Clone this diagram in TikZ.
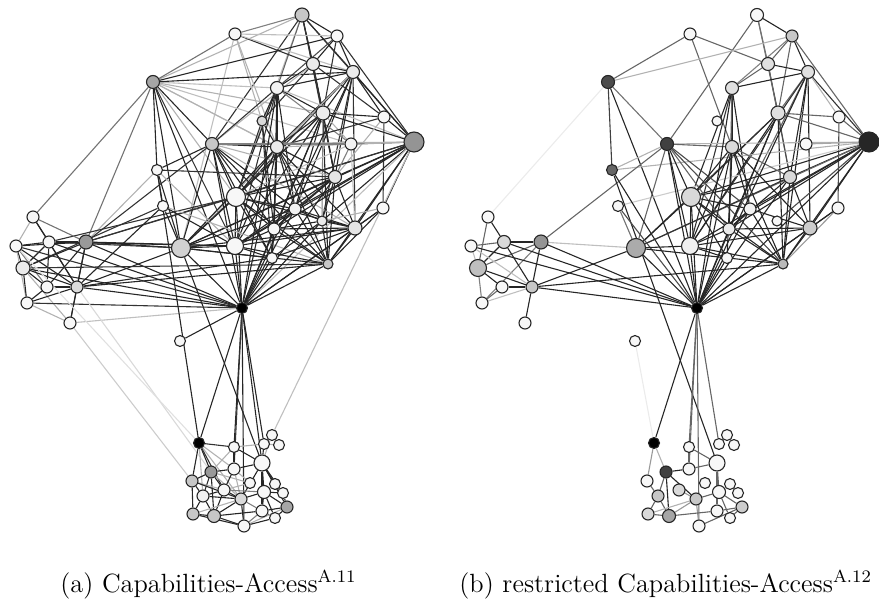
\documentclass[tikz,border=0pt]{standalone}
\usepackage{tikz}
\pgfdeclarelayer{edges}
\pgfsetlayers{edges,main}
\tikzset{
  vtx/.style={circle, draw=black!85, line width=0.5pt, inner sep=0pt, minimum size=#1*0.91pt},
  lnk/.style={line width=0.5pt, draw=black!#1},
  subcap/.style={anchor=base west, inner sep=0pt, font=\fontsize{12}{14}\selectfont},
}
\begin{document}
\begin{tikzpicture}[x=0.455pt, y=-0.455pt]
\useasboundingbox (0,0) rectangle (879,604);

% vertices: id / x / y / radius (a) / fill (a) / radius (b) / fill (b)
\foreach \i/\x/\y/\r/\f/\R/\F in {
  1/302/15/7/22/6.5/3, 2/235/34/6/3/6/3, 3/337/36/6/3/6/22, 4/153/82/6.5/35/6.5/70,
  5/313/64/6.5/8/6.5/12, 6/353/72/6.5/8/6.5/12, 7/277/88/6.5/5/6.5/12, 8/262/121/5/15/5/3,
  9/323/113/7/8/7/12, 10/384/117/6/3/6/3, 11/414/142/10/42/10/85, 12/212/144/6.5/22/6.5/75,
  13/277/147/6.5/8/6.5/15, 14/351/144/6/5/6/3, 15/157/170/5.5/3/5.5/60, 16/335/177/6.5/10/6.5/15,
  17/236/197/9.5/3/9.5/15, 18/163/206/5.5/3/5.5/3, 19/295/209/6/5/6/5, 20/383/208/6/3/6/3,
  21/322/221/5/8/5/3, 22/274/229/6/3/6/8, 23/355/228/7/10/7/20, 24/181/248/9.5/18/9.5/33,
  25/235/246/8.5/3/8.5/6, 26/86/242/7/40/7/42, 27/33/217/6/4/6/3, 28/49/242/6/4/6.5/15,
  29/16/246/6/3/6/3, 30/23/268/7/8/8.5/25, 31/272/258/5.5/3/5.5/3, 32/328/264/5/22/5/27,
  33/77/287/6/14/6/22, 34/47/287/6/3/6/3, 35/27/303/6/3/6/3, 36/70/323/6/3/6/3,
  37/242/308/5.5/100/5.5/100, 38/180/341/5.5/3/5.5/3,
  41/199/443/5.5/100/5.5/100, 42/234/447/5.5/3/5.5/3, 43/272/435/5.5/3/5.5/3, 44/264/444/5.5/3/5.5/3,
  45/279/445/5.5/3/5.5/3, 46/211/472/6/40/6/75, 47/234/469/6/3/6/3, 48/262/463/8/3/8/3,
  49/192/481/6/22/6/3, 50/250/483/5.5/3/5.5/3, 51/275/484/5.5/3/5.5/3, 52/203/496/6/6/6/22,
  53/224/490/6/3/6/15, 54/241/499/6/15/6/22, 55/264/492/6.5/3/6.5/3, 56/283/493/5.5/3/5.5/3,
  57/193/514/6/22/6/15, 58/214/516/6.5/22/6.5/35, 59/262/511/6/3/6/3, 60/287/507/6/35/6/20,
  61/275/518/5.5/3/5.5/3, 62/244/526/6/3/6/3}
{
  \node[vtx=\r, fill=black!\f] (a\i) at (\x,\y) {};
  \node[vtx=\R, fill=black!\F] (b\i) at (\x+455,\y) {};
}

\begin{pgfonlayer}{edges}
% links of the full graph: from / to / grey level
\foreach \s/\t/\c in {
  1/2/50, 1/3/85, 1/5/85, 1/6/85, 1/9/85, 1/11/80, 1/4/30, 1/12/80, 1/16/80, 1/17/25, 1/7/60,
  2/4/55, 2/5/80, 2/6/25, 2/8/30, 2/13/30, 2/3/25, 2/24/25,
  3/6/85, 3/5/85, 3/4/85, 3/9/80, 3/11/80, 3/7/70,
  4/12/85, 4/7/25, 4/15/85, 4/13/25, 4/17/30, 4/26/55, 4/24/85, 4/25/80, 4/9/30, 4/37/85, 4/6/85, 4/14/25, 4/16/30, 4/27/55,
  5/6/85, 5/9/85, 5/7/85, 5/8/80, 5/16/80, 5/12/30, 5/10/80,
  6/9/85, 6/10/85, 6/11/85, 6/7/85, 6/13/80, 6/19/85, 6/16/85, 6/23/80, 6/17/80, 6/21/80, 6/24/30,
  7/8/85, 7/13/85, 7/12/80, 7/17/85, 7/19/85, 7/22/85, 7/25/80, 7/9/85, 7/14/50, 7/11/25,
  8/13/85, 8/17/80, 8/22/85, 8/31/80,
  9/10/85, 9/11/85, 9/13/85, 9/16/85, 9/17/85, 9/22/85, 9/24/80, 9/25/85, 9/32/85, 9/19/85, 9/21/50, 9/14/30,
  10/11/85, 10/20/80, 10/16/30, 10/13/80,
  11/14/85, 11/16/85, 11/17/85, 11/19/85, 11/21/85, 11/23/85, 11/24/85, 11/25/85, 11/22/85, 11/20/85,
  11/12/30, 11/13/30, 11/32/85, 11/26/80, 11/37/25,
  12/13/85, 12/14/50, 12/15/85, 12/17/85, 12/19/85, 12/22/85, 12/24/85, 12/25/85, 12/31/85, 12/32/85,
  12/37/85, 12/16/30, 12/23/30, 12/26/80,
  13/16/85, 13/17/85, 13/19/85, 13/22/85, 13/23/85, 13/25/85, 13/31/85, 13/32/85, 13/24/85, 13/21/85,
  14/16/50, 14/17/25, 14/23/25,
  15/18/85, 15/24/85, 15/25/30, 15/16/80, 15/26/30,
  16/17/85, 16/19/85, 16/21/85, 16/22/85, 16/23/85, 16/24/85, 16/32/85, 16/25/85,
  17/19/85, 17/22/85, 17/24/85, 17/25/85, 17/31/85, 17/37/85, 17/23/85, 17/32/85, 17/26/80, 17/28/80,
  18/24/85, 18/25/85, 18/33/85, 18/30/80, 18/32/30,
  19/22/85, 19/23/85, 19/32/85, 19/21/85, 19/24/85, 19/25/85,
  20/23/85, 20/32/85, 20/21/30,
  21/23/85, 21/32/85, 21/22/85, 21/31/85,
  22/25/85, 22/32/85, 22/23/85, 22/31/85,
  23/25/85, 23/32/85, 23/24/85, 23/31/85, 23/37/85,
  24/25/85, 24/26/85, 24/33/85, 24/37/85, 24/32/85, 24/31/85, 24/28/80,
  25/26/85, 25/31/85, 25/32/85, 25/37/85,
  26/27/55, 26/28/85, 26/29/85, 26/30/85, 26/33/85, 26/34/85, 26/36/85, 26/37/85,
  27/28/85, 27/29/30, 27/33/85,
  28/29/85, 28/30/85, 28/33/85, 28/34/85, 28/25/85, 28/37/85,
  29/30/85, 29/33/85, 29/34/50, 29/35/30, 29/37/80,
  30/33/85, 30/34/85, 30/35/85, 30/36/30, 30/37/85, 30/32/80,
  33/34/85, 33/36/85, 33/35/85, 33/37/85, 33/32/85, 33/31/85,
  34/35/85, 35/36/30, 35/37/80, 36/37/25,
  37/19/85, 37/21/85, 37/22/85, 37/31/85, 37/32/85, 37/13/85, 37/9/85, 37/7/85, 37/16/85, 37/6/85,
  37/20/85, 37/38/85,
  37/41/85, 37/42/85, 37/44/85, 37/48/85, 37/62/85, 37/47/80, 15/41/85, 24/48/85, 11/43/25,
  36/49/20, 33/46/15, 29/41/12,
  41/42/80, 41/46/85, 41/49/85, 41/47/30, 41/52/30, 41/54/30, 41/53/80,
  42/47/85, 42/48/85, 42/46/30, 42/44/30,
  43/44/85, 43/45/85, 43/48/30, 44/48/85, 44/45/30,
  46/47/85, 46/49/85, 46/52/85, 46/53/85, 46/58/85, 46/54/30, 46/50/30,
  47/48/85, 47/53/85, 47/54/30, 47/50/30,
  48/51/85, 48/55/85, 48/59/85, 48/60/85, 48/54/85, 48/56/85,
  49/52/85, 49/57/85, 49/53/30, 49/54/85, 50/53/30,
  52/53/85, 52/57/85, 52/58/85, 52/54/85,
  53/54/85, 53/58/85, 53/55/50,
  54/55/85, 54/58/85, 54/59/50, 54/62/85, 54/57/30,
  55/56/85, 55/59/85, 55/61/85, 55/60/85, 55/51/30, 56/60/85,
  57/58/85, 57/62/85, 58/62/85, 58/59/85,
  59/60/85, 59/61/85, 59/62/50, 60/61/85, 60/62/30, 61/62/85}
  \draw[lnk=\c] (a\s) -- (a\t);

% links of the restricted graph
\foreach \s/\t/\c in {
  1/3/85, 1/5/60, 1/12/60, 1/9/55,
  3/6/85, 3/5/60, 3/9/60, 3/11/60, 3/7/50,
  2/4/60, 2/5/60, 2/13/60,
  4/15/75, 4/12/55, 4/3/30, 4/37/85, 4/27/8,
  5/6/85, 5/7/60, 5/9/70, 5/16/60,
  6/7/85, 6/11/80, 6/9/60, 6/16/85, 6/23/85, 6/25/80, 6/22/60, 6/32/85, 6/10/30,
  7/13/85, 7/17/85, 7/25/80, 7/19/85, 7/22/60,
  9/10/60, 9/11/60, 9/17/85, 9/22/85, 9/24/80, 9/25/85, 9/32/85, 9/16/70,
  10/11/60, 10/20/70,
  11/12/30, 11/14/35, 11/16/85, 11/17/85, 11/19/85, 11/23/85, 11/24/60, 11/25/85, 11/32/85,
  11/22/85, 11/21/70, 11/15/30, 11/18/20,
  12/13/60, 12/17/85, 12/22/60, 12/25/85, 12/24/60, 12/15/30, 12/32/70, 12/19/70, 12/26/60,
  13/16/60, 13/17/85, 13/19/85, 13/22/85, 13/23/85, 13/32/85, 13/25/85, 13/31/85,
  15/37/85, 15/48/85,
  16/17/85, 16/23/85, 16/32/85, 16/22/85, 16/24/80,
  17/19/85, 17/22/85, 17/24/85, 17/25/85, 17/31/85, 17/32/85, 17/37/85,
  18/37/70, 18/24/55,
  19/32/85, 19/23/85, 19/22/85, 20/23/85, 20/32/40,
  22/23/85, 22/25/85, 22/32/85, 23/25/85, 23/32/85,
  24/25/85, 24/26/25, 24/37/85, 24/33/85, 24/32/85,
  25/32/85, 25/37/85, 25/31/85,
  26/28/85, 26/33/85, 26/35/50, 26/37/85, 26/30/60,
  27/28/85, 27/30/60,
  28/33/85, 28/30/85, 28/29/60, 28/37/85,
  29/30/25, 29/33/25, 29/37/85,
  30/33/85, 30/34/85, 30/35/50,
  33/37/85, 33/36/85, 33/34/85, 33/32/85, 34/35/60, 35/33/25,
  37/9/85, 37/13/85, 37/16/85, 37/19/85, 37/22/85, 37/23/85, 37/32/85, 37/31/85, 37/12/85,
  37/6/85, 37/7/85, 37/11/85, 37/20/85,
  37/41/85, 37/42/60, 37/44/60, 37/62/60, 37/47/60, 38/41/8,
  41/46/30, 41/49/40, 42/47/60, 42/48/60,
  43/44/85, 43/45/85,
  46/47/85, 46/54/85, 46/58/85, 46/52/60,
  47/48/60, 48/55/60, 48/59/60,
  49/52/60, 52/57/60, 52/58/60, 53/54/40,
  54/55/60, 54/57/30, 54/58/40, 54/62/40,
  55/60/60, 55/61/60, 57/58/60,
  59/60/60, 61/60/60, 58/59/60, 60/62/60}
  \draw[lnk=\c] (b\s) -- (b\t);
\end{pgfonlayer}

% sub-captions
\node[subcap] (capa) at (60,592) {(a)\ Capabilities-Access$^{\mathrm{A.11}}$};
\node[subcap] (capb) at (459,592) {(b)\ restricted Capabilities-Access$^{\mathrm{A.12}}$};
\end{tikzpicture}
\end{document}
